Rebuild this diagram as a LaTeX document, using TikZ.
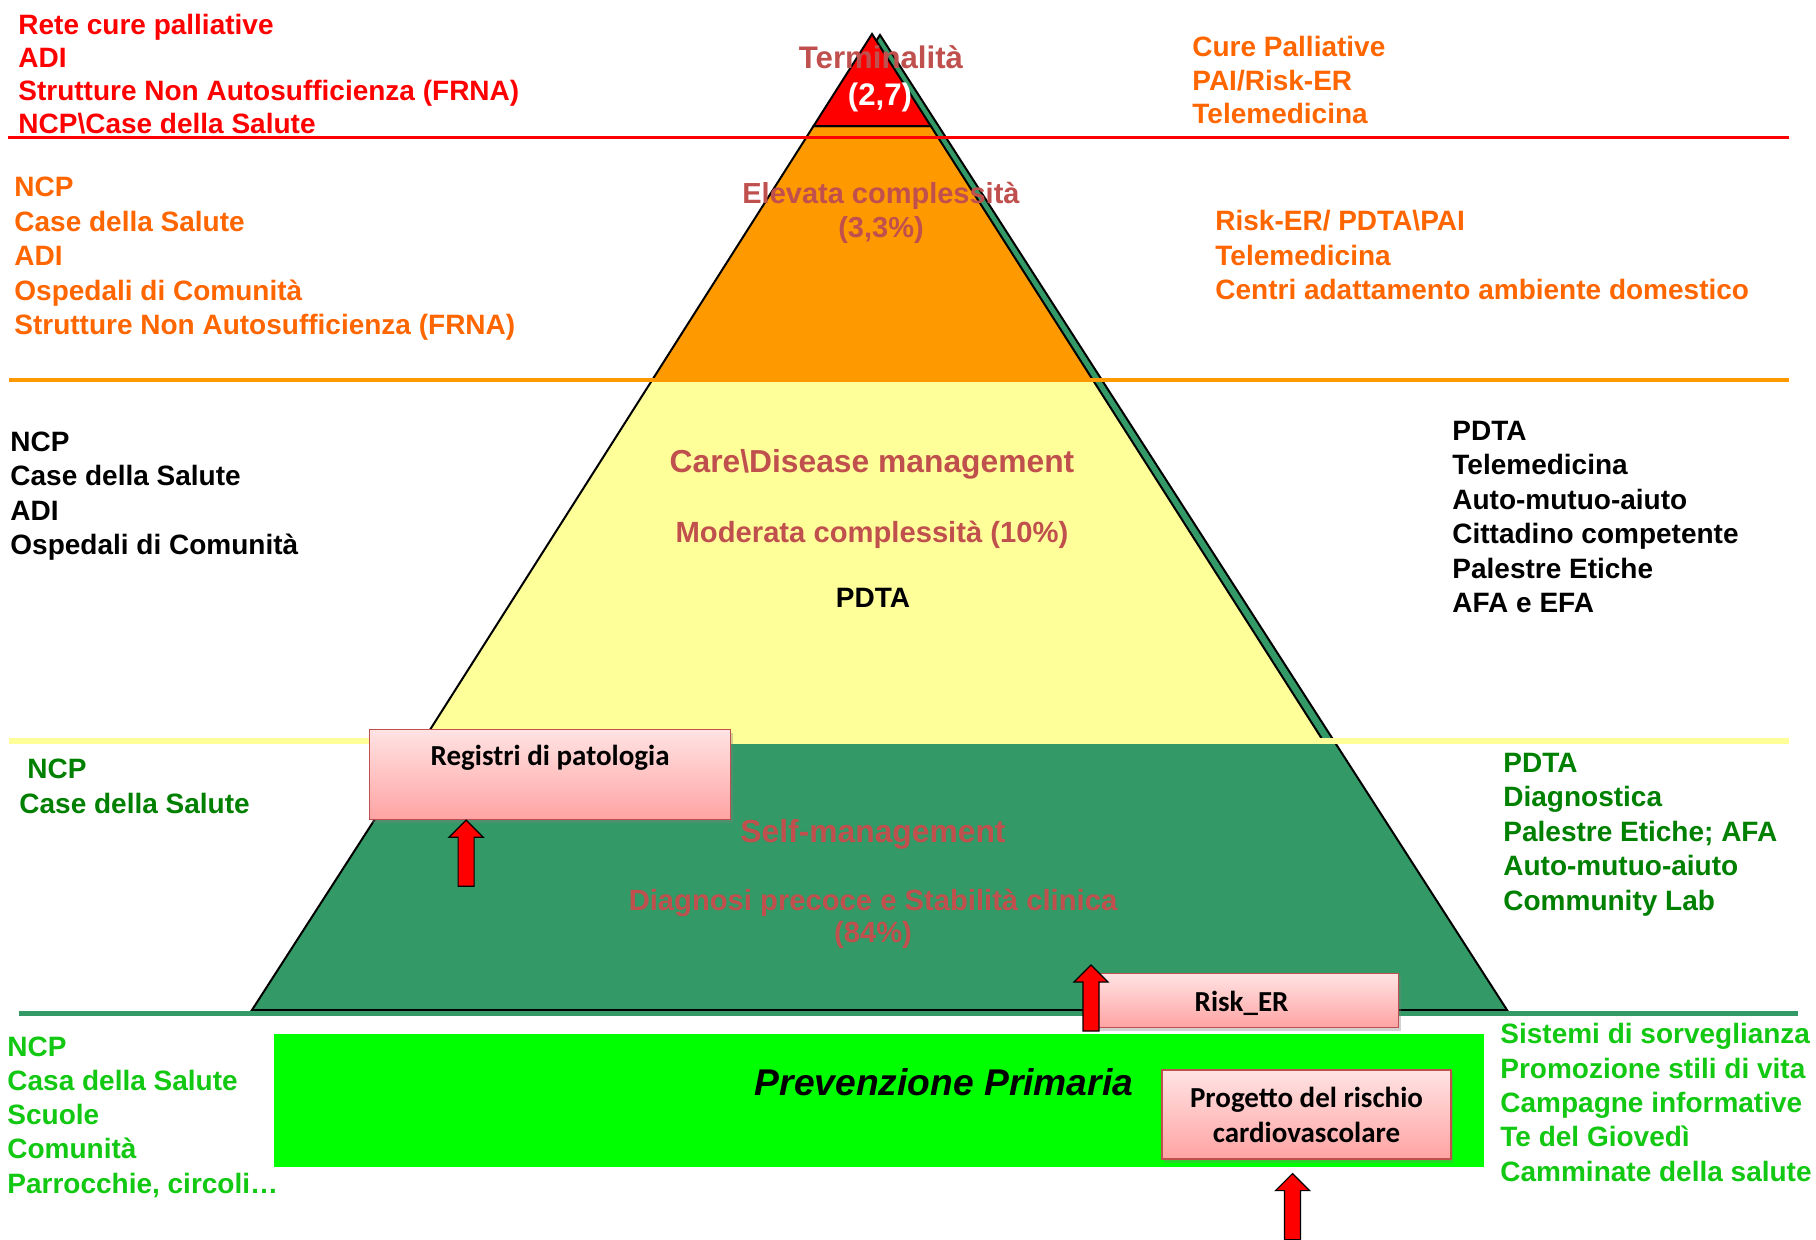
\documentclass[tikz,border=0pt]{standalone}
\usepackage{fontspec}
\setmainfont{Liberation Sans}
\newfontfamily\calibri{Carlito}
\usetikzlibrary{calc,shadows}

\definecolor{pyrorange}{HTML}{FF9900}
\definecolor{pyryellow}{HTML}{FFFF99}
\definecolor{pyrgreen}{HTML}{339966}
\definecolor{primgreen}{HTML}{00FF00}
\definecolor{txtorange}{HTML}{FF6600}
\definecolor{txtdkgreen}{HTML}{008000}
\definecolor{txtltgreen}{HTML}{12C812}
\definecolor{tierred}{HTML}{C0504D}
\definecolor{boxtop}{HTML}{FFE3E3}
\definecolor{boxbottom}{HTML}{FFA3A3}

\begin{document}
\begin{tikzpicture}[x=0.5pt, y=-0.5pt,
  sidetext/.style={anchor=base west, align=left, inner sep=0pt,
                   font=\bfseries\fontsize{14}{17.25}\selectfont, text=#1},
  sidetext/.default=black,
  tier/.style={anchor=base, align=center, inner sep=0pt, text=tierred,
               font=\bfseries\fontsize{#1}{17}\selectfont},
  tier/.default=15.6,
  pinkbox/.style={rectangle, draw=tierred, line width=0.6pt,
                  top color=boxtop, bottom color=boxbottom, inner sep=0pt,
                  drop shadow={shadow xshift=1.2pt, shadow yshift=-1.8pt, opacity=0.35},
                  font=\calibri\bfseries\fontsize{14.5}{17.5}\selectfont},
  layer/.style={line width=1pt, line join=miter},
  uparr/.pic={\draw[fill=red, line width=0.6pt, line join=miter]
              (0,0) -- (17,17) -- (8,17) -- (8,66) -- (-8,66) -- (-8,17) -- (-17,17) -- cycle;}
]
  \fill[white] (0,0) rectangle (1816,1240);
  \useasboundingbox (0,0) rectangle (1816,1240);

  % pyramid
  \coordinate (apex) at (872,34);
  \coordinate (bl) at (252,1010);
  \coordinate (br) at (1495,1010);
  \coordinate (gapex) at (880,35);
  \coordinate (gbr) at (1507,1010);
  \path ($(apex)!0.0943!(bl)$) coordinate (l1) ($(apex)!0.0943!(br)$) coordinate (r1)
        ($(apex)!0.3545!(bl)$) coordinate (l2) ($(apex)!0.3545!(br)$) coordinate (r2)
        ($(apex)!0.7244!(bl)$) coordinate (l3) ($(apex)!0.7244!(br)$) coordinate (r3);

  \draw[layer, fill=pyrgreen] (gapex) -- (bl) -- (gbr) -- cycle;
  \draw[layer, fill=pyryellow] (l3) -- (l2) -- (r2) -- (r3);
  \draw[layer, fill=pyrorange] (l2) -- (l1) -- (r1) -- (r2);
  \draw[layer, fill=red] (apex) -- (l1) -- (r1) -- cycle;

  % separators
  \draw[red, line width=1.5pt] (8,138) -- (1789,138);
  \draw[pyrorange, line width=2.2pt] (9,380) -- (1789,380);
  \draw[pyryellow, line width=2.8pt] (9,741) -- (1789,741);
  \draw[pyrgreen, line width=2.5pt] (19,1013) -- (1798,1013);

  \node[fill=primgreen, minimum width=605pt, minimum height=66.5pt, inner sep=0pt,
        anchor=north west] (prim) at (274,1034) {};

  % pyramid levels (multi-line nodes sit on their last baseline)
  \node[tier] (term) at (881,69) {Terminalità};
  \node[tier, text=white] (termpct) at (880,106) {(2,7)};
  \node[tier=14.5] (high) at (881,238) {Elevata complessità\\(3,3\%)};
  \node[tier=15.9] (care) at (872,473) {Care\textbackslash Disease management};
  \node[tier=14.6] (mod) at (872,543) {Moderata complessità (10\%)};
  \node[tier=14, text=black] (pdta) at (873,608) {PDTA};
  \node[tier=15.9] (self) at (873,842) {Self-management};
  \node[tier=14.6, font=\bfseries\fontsize{14.6}{16}\selectfont] (diag) at (873,942)
        {Diagnosi precoce e Stabilità clinica\\(84\%)};
  \node[anchor=base, inner sep=0pt, font=\bfseries\itshape\fontsize{18.6}{20}\selectfont]
        (primtext) at (944,1095) {Prevenzione Primaria};

  % services left
  \node[sidetext=red, font=\bfseries\fontsize{14}{16.5}\selectfont] (palleft) at (18,134)
        {Rete cure palliative\\ADI\\Strutture Non Autosufficienza (FRNA)\\NCP\textbackslash Case della Salute};
  \node[sidetext=txtorange] (highleft) at (14,335)
        {NCP\\Case della Salute\\ADI\\Ospedali di Comunità\\Strutture Non Autosufficienza (FRNA)};
  \node[sidetext] (modleft) at (10,555)
        {NCP\\Case della Salute\\ADI\\Ospedali di Comunità};
  \node[sidetext=txtdkgreen] (selfleft) at (19,813)
        {\hspace*{4pt}NCP\\Case della Salute};
  \node[sidetext=txtltgreen, font=\bfseries\fontsize{14}{17.1}\selectfont] (primleft) at (7,1193)
        {NCP\\Casa della Salute\\Scuole\\Comunità\\Parrocchie, circoli…};

  % tools right
  \node[sidetext=txtorange, font=\bfseries\fontsize{14}{16.75}\selectfont] (palright) at (1192,124)
        {Cure Palliative\\PAI/Risk-ER\\Telemedicina};
  \node[sidetext=txtorange] (highright) at (1215,300)
        {Risk-ER/ PDTA\textbackslash PAI\\Telemedicina\\Centri adattamento ambiente domestico};
  \node[sidetext] (modright) at (1452,613)
        {PDTA\\Telemedicina\\Auto-mutuo-aiuto\\Cittadino competente\\Palestre Etiche\\AFA e EFA};
  \node[sidetext=txtdkgreen] (selfright) at (1503,910)
        {PDTA\\Diagnostica\\Palestre Etiche; AFA\\Auto-mutuo-aiuto\\Community Lab};
  \node[sidetext=txtltgreen, font=\bfseries\fontsize{14}{17.15}\selectfont] (primright) at (1500,1181)
        {Sistemi di sorveglianza\\Promozione stili di vita\\Campagne informative\\Te del Giovedì\\Camminate della salute};

  % boxes and arrows
  \node[pinkbox, minimum width=180.5pt, minimum height=45pt, text height=18pt, text depth=27pt,
        anchor=north west] (reg) at (369,729) {Registri di patologia};
  \node[pinkbox, minimum width=157pt, minimum height=27pt, text height=19pt, text depth=8pt,
        anchor=north west] (risk) at (1084,973) {Risk\_ER};
  \node[pinkbox, align=center, minimum width=144.5pt, minimum height=44.5pt] (prog) at (1306.5,1114.5)
        {Progetto del rischio\\cardiovascolare};

  \pic at ([xshift=-42pt]reg.south) {uparr};
  \pic at ([shift={(7,-8)}]risk.north west) {uparr};
  \pic at ([shift={(-14,14)}]prog.south) {uparr};
\end{tikzpicture}
\end{document}
